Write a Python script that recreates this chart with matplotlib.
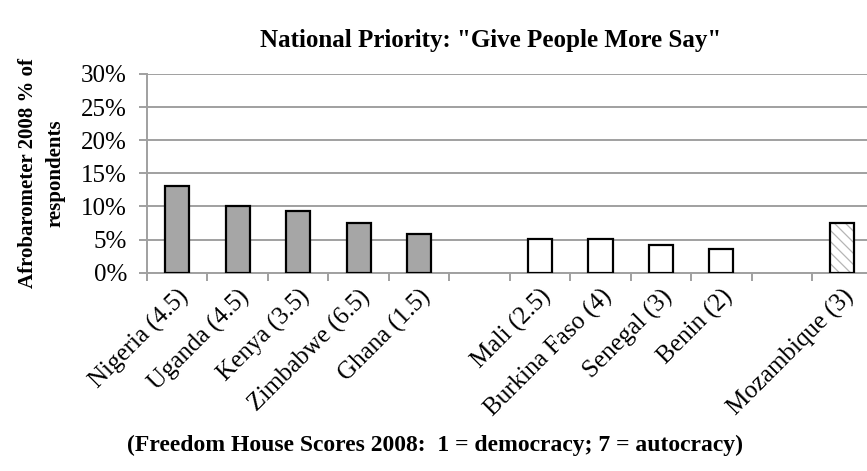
import numpy as np
import matplotlib
matplotlib.use('Agg')
import matplotlib.pyplot as plt

plt.rcParams['font.family'] = ['Liberation Serif', 'DejaVu Serif']
plt.rcParams['hatch.linewidth'] = 0.9

# data (blank slots are gaps between groups)
countries = ['Nigeria (4.5)', 'Uganda (4.5)', 'Kenya (3.5)', 'Zimbabwe (6.5)', 'Ghana (1.5)', '',
             'Mali (2.5)', 'Burkina Faso (4)', 'Senegal (3)', 'Benin (2)', '',
             'Mozambique (3)']
values = [13.1, 10.1, 9.3, 7.5, 5.9, np.nan, 5.1, 5.1, 4.2, 3.6, np.nan, 7.5]
groups = ['gray', 'gray', 'gray', 'gray', 'gray', None,
          'white', 'white', 'white', 'white', None, 'hatch']

fig = plt.figure(figsize=(8.67, 4.71), dpi=100)
ax = fig.add_axes([0.1696, 0.421, 0.8367, 0.4219])

x = np.arange(len(countries)) + 0.5
for xi, v, g in zip(x, values, groups):
    if g is None:
        continue
    if g == 'gray':
        ax.bar(xi, v, width=0.4, color='#a6a6a6', edgecolor='black', linewidth=1.6, zorder=3)
    elif g == 'white':
        ax.bar(xi, v, width=0.4, color='white', edgecolor='black', linewidth=1.6, zorder=3)
    else:
        # hatch drawn in light gray, outline added on top in black
        ax.bar(xi, v, width=0.4, color='white', edgecolor='#b5b5b5', linewidth=0,
               hatch='\\\\\\', zorder=3)
        ax.bar(xi, v, width=0.4, fill=False, edgecolor='black', linewidth=1.6, zorder=4)

ax.set_xlim(0, len(countries))
ax.set_ylim(0, 30)
ax.set_yticks(np.arange(0, 31, 5))
ax.set_yticklabels([f'{t}%' for t in range(0, 31, 5)], fontsize=18)
ax.yaxis.grid(True, color='#a0a0a0', linewidth=1.4, zorder=0)

ax.set_xticks(np.arange(0, len(countries) + 1))
ax.set_xticklabels([])
ax.set_xticks(x, minor=True)
ax.set_xticklabels(countries, minor=True, rotation=45, ha='right',
                   rotation_mode='anchor', fontsize=18)
ax.tick_params(axis='x', which='minor', length=0, pad=9)
ax.tick_params(axis='both', which='major', direction='out', length=5.5,
               width=1.4, color='#a0a0a0')
ax.tick_params(axis='y', pad=9)

for s in ['top', 'right']:
    ax.spines[s].set_visible(False)
for s in ['left', 'bottom']:
    ax.spines[s].set_color('#a0a0a0')
    ax.spines[s].set_linewidth(1.4)

ax.set_ylabel('Afrobarometer 2008 % of\nrespondents', fontsize=15, fontweight='bold',
              linespacing=1.5, labelpad=11)
fig.text(0.502, 0.042, '(Freedom House Scores 2008:  1 = democracy; 7 = autocracy)',
         ha='center', va='baseline', fontsize=17, fontweight='bold')
fig.text(0.566, 0.9, 'National Priority: "Give People More Say"',
         ha='center', va='baseline', fontsize=18, fontweight='bold')

fig.savefig('out.png', dpi=100)
